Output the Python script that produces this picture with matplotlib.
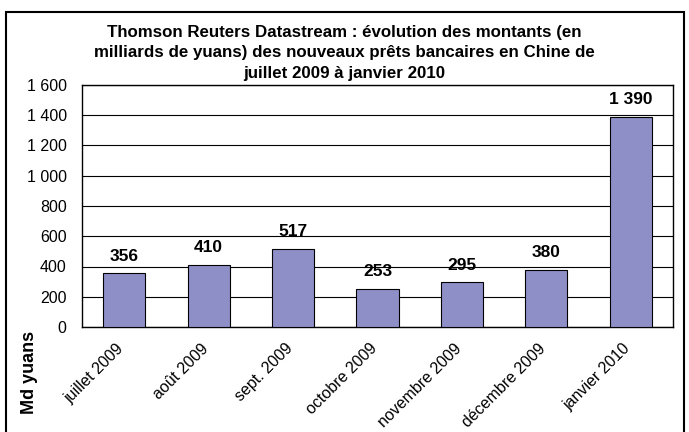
import matplotlib
matplotlib.use("Agg")
import matplotlib.pyplot as plt
import matplotlib.transforms as mtrans
from matplotlib.patches import Rectangle
from matplotlib.ticker import FuncFormatter

categories = ["juillet 2009", "août 2009", "sept. 2009", "octobre 2009",
              "novembre 2009", "décembre 2009", "janvier 2010"]
values = [356, 410, 517, 253, 295, 380, 1390]
value_labels = ["356", "410", "517", "253", "295", "380", "1 390"]
yticks = [0, 200, 400, 600, 800, 1000, 1200, 1400, 1600]

plt.rcParams['font.family'] = ['Liberation Sans', 'DejaVu Sans']

fig = plt.figure(figsize=(6.89, 4.32), dpi=100)
fig.patch.set_facecolor('white')
W, H = 689, 432
ax = fig.add_axes([82 / W, 1 - 327 / H, (673 - 82) / W, (327 - 85) / H])

x = list(range(len(categories)))
ax.bar(x, values, width=0.5, color='#8E8FC7', edgecolor='black', linewidth=0.8, zorder=3)
ax.set_xlim(-0.5, len(categories) - 0.5)
ax.set_ylim(0, 1600)
ax.set_yticks(yticks)
ax.yaxis.set_major_formatter(FuncFormatter(lambda v, p: f"{int(v):,}".replace(",", " ")))
ax.grid(axis='y', color='black', linewidth=0.8, zorder=0)
for s in ax.spines.values():
    s.set_color('black')
    s.set_linewidth(1.0)
ax.tick_params(axis='y', length=0, labelsize=11.5, pad=11)
ax.tick_params(axis='x', length=0, labelsize=11.5, pad=10)
ax.set_xticks(x)
ax.set_xticklabels(categories, rotation=45, ha='right', rotation_mode='anchor')
offset = mtrans.ScaledTranslation(-6 / 72, 0, fig.dpi_scale_trans)
for lbl in ax.get_xticklabels():
    lbl.set_transform(lbl.get_transform() + offset)

for xi, v, t in zip(x, values, value_labels):
    ax.annotate(t, (xi, v), xytext=(0, 9), textcoords='offset points',
                ha='center', va='baseline', fontsize=12.5, fontweight='bold')

fig.text(0.5, 1 - 53 / H,
         "Thomson Reuters Datastream : évolution des montants (en\n"
         "milliards de yuans) des nouveaux prêts bancaires en Chine de\n"
         "juillet 2009 à janvier 2010",
         ha='center', va='center', fontsize=12.2, fontweight='bold', linespacing=1.42)

fig.text(30 / W, 1 - 372 / H, "Md yuans", rotation=90, ha='center', va='center',
         fontsize=13, fontweight='bold')

fig.add_artist(Rectangle((6 / W, -0.05), (684 - 6) / W, 1.05 - 12 / H,
                         transform=fig.transFigure, fill=False,
                         edgecolor='black', linewidth=1.5))

fig.savefig("out.png", dpi=100)
